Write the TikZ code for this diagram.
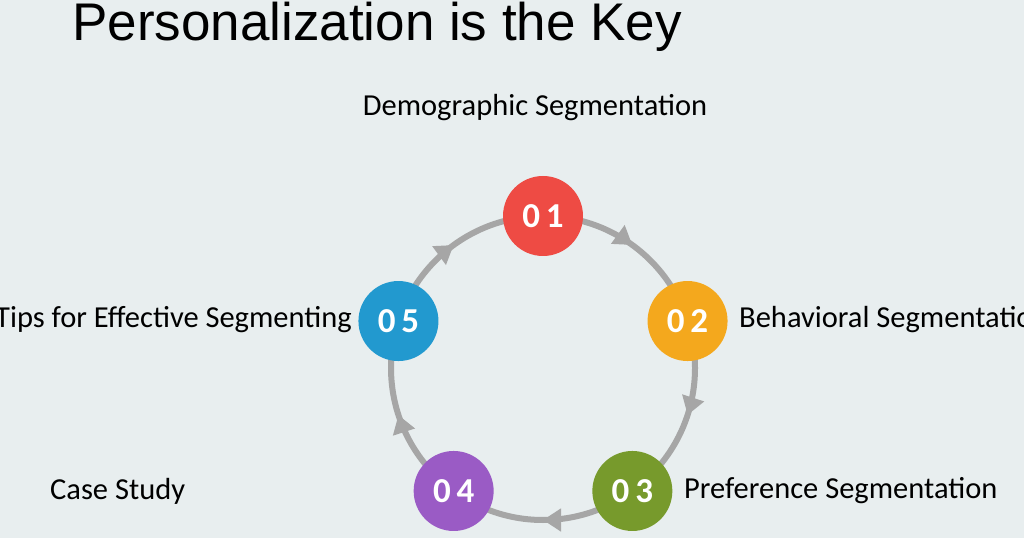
\documentclass[tikz,border=0pt]{standalone}
\usepackage{fontspec}
\setmainfont{Carlito}
\newfontfamily\titlefont{Liberation Sans}
\usetikzlibrary{arrows.meta,decorations.markings,calc}

\definecolor{bgcol}{HTML}{E8EEEF}
\definecolor{ringcol}{HTML}{A6A6A6}
\definecolor{stepred}{HTML}{EE4B44}
\definecolor{steporange}{HTML}{F4A81D}
\definecolor{stepgreen}{HTML}{779A2C}
\definecolor{steppurple}{HTML}{9A5BC5}
\definecolor{stepblue}{HTML}{2299CF}

\tikzset{
  stepdot/.style={circle,minimum size=80pt,inner sep=0pt,text=white,
    font=\fontsize{35}{35}\selectfont\bfseries},
  lbl/.style={font=\fontsize{30.5}{34}\selectfont,inner sep=0pt},
}

\begin{document}
\begin{tikzpicture}[x=1pt,y=1pt]
\useasboundingbox (0,0) rectangle (1024,538);
\clip (0,0) rectangle (1024,538);
\fill[bgcol] (0,0) rectangle (1024,538);

\node[anchor=west,inner sep=0pt,font=\titlefont\fontsize{53}{58}\selectfont] (title) at (72,511) {Personalization is the Key};

\coordinate (c) at (543,170);
% ring with arrows
\draw[ringcol,line width=6pt,
  decoration={markings,
    mark=at position 0.1 with {\arrow{Triangle[length=18pt,width=22pt]}},
    mark=at position 0.3 with {\arrow{Triangle[length=18pt,width=22pt]}},
    mark=at position 0.5 with {\arrow{Triangle[length=18pt,width=22pt]}},
    mark=at position 0.7 with {\arrow{Triangle[length=18pt,width=22pt]}},
    mark=at position 0.9 with {\arrow{Triangle[length=18pt,width=22pt]}}},
  postaction={decorate}]
  (c) ++(90:152) arc[start angle=90,end angle=-270,radius=152];

\node[stepdot,fill=stepred]    (s1) at ($(c)+(90:152)$)   {0\,1};
\node[stepdot,fill=steporange] (s2) at ($(c)+(18:152)$)   {0\,2};
\node[stepdot,fill=stepgreen]  (s3) at ($(c)+(-54:152)$)  {0\,3};
\node[stepdot,fill=steppurple] (s4) at ($(c)+(-126:152)$) {0\,4};
\node[stepdot,fill=stepblue]   (s5) at ($(c)+(162:152)$)  {0\,5};

\node[lbl] (l1) at (535,430) {Demographic Segmentation};
\node[lbl,anchor=west] (l2) at (739,218) {Behavioral Segmentation};
\node[lbl,anchor=west] (l3) at (684,47) {Preference Segmentation};
\node[lbl,anchor=west] (l4) at (50,47) {Case Study};
\node[lbl,anchor=east] (l5) at (352,218) {Tips for Effective Segmenting};
\end{tikzpicture}
\end{document}
